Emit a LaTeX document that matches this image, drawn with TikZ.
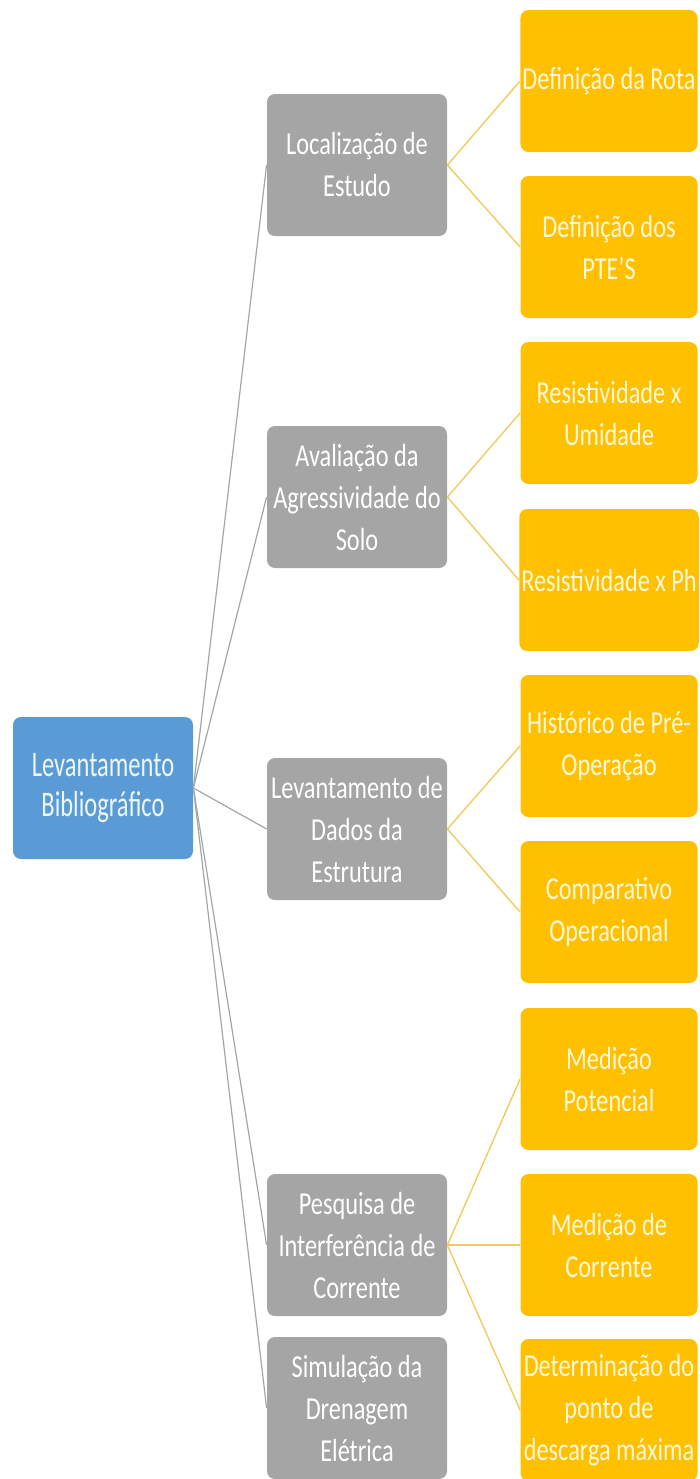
\documentclass[tikz,border=0pt]{standalone}
\usepackage{fontspec}
\setmainfont{Carlito}[FakeStretch=0.76]
\newfontfamily\rootfont{Carlito}[FakeStretch=0.68]
\usetikzlibrary{shapes}
\definecolor{rootblue}{HTML}{5B9BD5}
\definecolor{roottext}{HTML}{ECF7FA}
\definecolor{topicgrey}{HTML}{A5A5A5}
\definecolor{leafgold}{HTML}{FFC000}
\definecolor{leaftext}{HTML}{FFF7DA}
\definecolor{leafline}{HTML}{F0CC60}
\tikzset{root/.style={fill=rootblue, text=roottext, font=\rootfont\fontsize{18}{20}\selectfont}}
\tikzset{topic/.style={fill=topicgrey}}
\tikzset{leaf/.style={fill=leafgold, text=leaftext, minimum width=88.5pt}}
\tikzset{topicedge/.style={draw=topicgrey, line width=0.6pt}}
\tikzset{leafedge/.style={draw=leafline, line width=0.7pt}}

\begin{document}
\begin{tikzpicture}[x=0.5pt, y=-0.5pt]
	% Default action for each node
	\tikzstyle{every node}=[shape=rectangle, rounded corners=4pt, minimum width=90pt, minimum height=71pt, align=center, text=white, font=\fontsize{16}{21}\selectfont, inner sep=1pt];

	\useasboundingbox (0,0) rectangle (700,1479);

	% Root
	\node[root] (bib) at (103,788) {Levantamento\\Bibliográfico};

	% Middle
	\node[topic] (loc) at (357,165) {Localização de\\Estudo};
	\node[topic] (aval) at (357,497) {Avaliação da\\Agressividade do\\Solo};
	\node[topic] (dados) at (357,829) {Levantamento de\\Dados da\\Estrutura};
	\node[topic] (pesq) at (357,1245) {Pesquisa de\\Interferência de\\Corrente};
	\node[topic] (sim) at (357,1408) {Simulação da\\Drenagem\\Elétrica};

	% Right
	\node[leaf] (rota) at (609,81) {Definição da Rota};
	\node[leaf] (ptes) at (609,247) {Definição dos\\PTE’S};
	\node[leaf] (umid) at (609,413) {Resistividade x\\Umidade};
	\node[leaf] (ph) at (609,580) {Resistividade x Ph};
	\node[leaf] (hist) at (609,746) {Histórico de Pré-\\Operação};
	\node[leaf] (comp) at (609,912) {Comparativo\\Operacional};
	\node[leaf] (pot) at (609,1079) {Medição\\Potencial};
	\node[leaf] (corr) at (609,1245) {Medição de\\Corrente};
	\node[leaf] (det) at (609,1410) {Determinação do\\ponto de\\descarga máxima};

	% Root to middle
	\draw[topicedge] (bib.east) -- (loc.west);
	\draw[topicedge] (bib.east) -- (aval.west);
	\draw[topicedge] (bib.east) -- (dados.west);
	\draw[topicedge] (bib.east) -- (pesq.west);
	\draw[topicedge] (bib.east) -- (sim.west);

	% Middle to right
	\draw[leafedge] (loc.east) -- (rota.west);
	\draw[leafedge] (loc.east) -- (ptes.west);

	\draw[leafedge] (aval.east) -- (umid.west);
	\draw[leafedge] (aval.east) -- (ph.west);

	\draw[leafedge] (dados.east) -- (hist.west);
	\draw[leafedge] (dados.east) -- (comp.west);

	\draw[leafedge] (pesq.east) -- (pot.west);
	\draw[leafedge] (pesq.east) -- (corr.west);
	\draw[leafedge] (pesq.east) -- (det.west);

\end{tikzpicture}
\end{document}
